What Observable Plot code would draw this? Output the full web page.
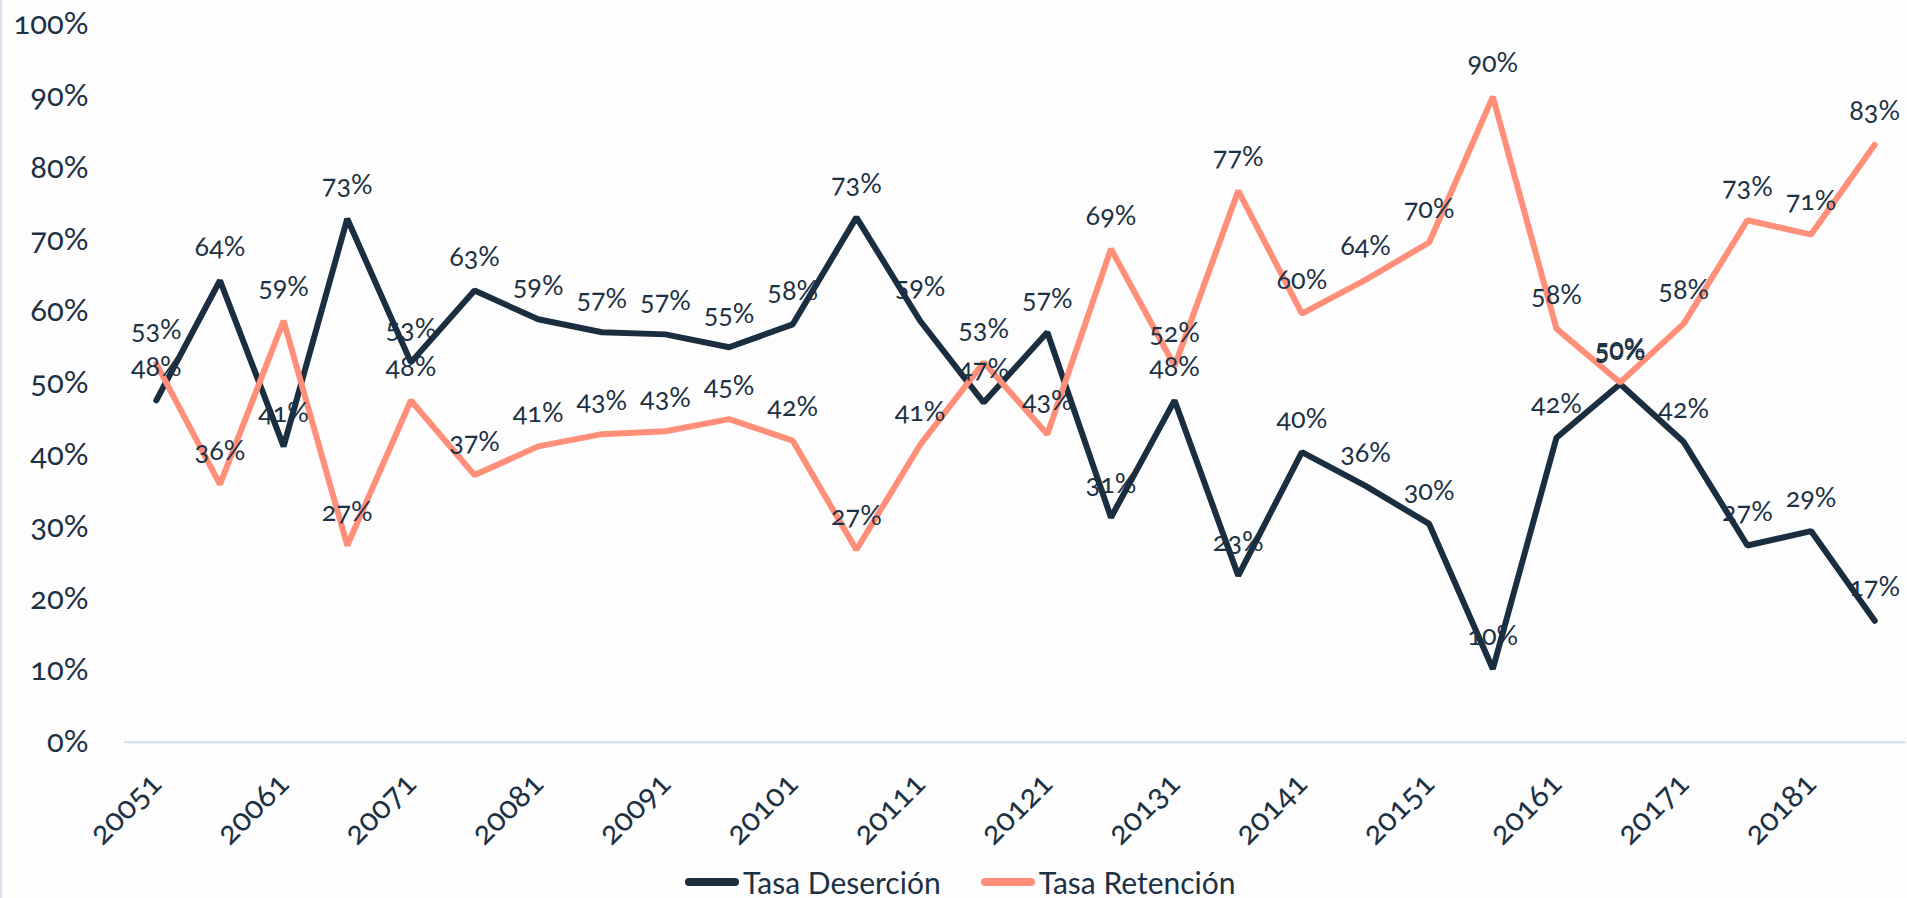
<!DOCTYPE html>
<html>
<head>
<meta charset="utf-8">
<script src="https://cdn.jsdelivr.net/npm/d3@7"></script>
<script src="https://cdn.jsdelivr.net/npm/@observablehq/plot@0.6"></script>
<style>
  html, body { margin: 0; padding: 0; background: #fdfdfd; }
  body { width: 1907px; height: 898px; overflow: hidden; position: relative;
         font-family: Lato, "Noto Sans", sans-serif; font-variant-numeric: oldstyle-nums; color: #1d3144; }
  #frame { position: absolute; left: 0; top: 0; width: 2px; height: 898px; background: #d6e3ef; }
  #legend { position: absolute; top: 862px; left: 685px; height: 40px; display: flex; align-items: center; font-size: 30px; }
  .item { display: flex; align-items: center; margin-right: 40px; }
  .sw { width: 54px; height: 8px; border-radius: 4px; margin-right: 4px; }
  svg text { font-variant-numeric: oldstyle-nums; }
</style>
</head>
<body>
<div id="frame"></div>
<div id="chart"></div>
<div id="legend"></div>
<script>
const periods = ["20051","20052","20061","20062","20071","20072","20081","20082","20091","20092",
  "20101","20102","20111","20112","20121","20122","20131","20132","20141","20142",
  "20151","20152","20161","20162","20171","20172","20181","20182"];
const desercion = [47.6, 64.3, 41.2, 72.9, 52.9, 62.9, 58.9, 57.1, 56.8, 55.0,
  58.2, 73.1, 58.7, 47.3, 57.1, 31.3, 47.6, 23.2, 40.4, 35.7,
  30.4, 10.2, 42.4, 49.9, 41.8, 27.4, 29.4, 16.9];
const retencion = [52.7, 35.9, 58.7, 27.4, 47.6, 37.2, 41.2, 42.9, 43.3, 45.0,
  42.0, 26.8, 41.4, 52.9, 42.9, 68.7, 52.4, 76.8, 59.7, 64.4,
  69.6, 89.9, 57.6, 50.1, 58.3, 72.7, 70.7, 83.2];
const xTickLabels = ["20051","20061","20071","20081","20091","20101","20111","20121","20131","20141","20151","20161","20171","20181"];
const yTicks = [0, 10, 20, 30, 40, 50, 60, 70, 80, 90, 100];
const seriesNames = ["Tasa Deserción", "Tasa Retención"];
const seriesColors = ["#1a2e40", "#ff8f78"];

const desData = periods.map((p, i) => ({period: p, value: desercion[i]}));
const retData = periods.map((p, i) => ({period: p, value: retencion[i]}));
const textColor = "#1d3144";
const fmt = v => Math.round(v) + "%";

const chart = Plot.plot({
  width: 1907,
  height: 862,
  marginLeft: 124,
  marginRight: 1,
  marginTop: 23.7,
  marginBottom: 120.3,
  style: {background: "transparent", fontFamily: "Lato, 'Noto Sans', sans-serif", color: textColor},
  x: {type: "point", domain: periods, padding: 0.5, round: false, axis: null},
  y: {domain: [0, 100], axis: null},
  marks: [
    Plot.ruleY([0], {stroke: "#d3dfeb", strokeWidth: 2}),
    Plot.axisY({ticks: yTicks, tickFormat: d => d + "%", tickSize: 0, tickPadding: 36, fontSize: 31, fill: textColor, label: null}),
    Plot.axisX({ticks: xTickLabels, tickSize: 0, tickRotate: -45, tickPadding: 36, fontSize: 32, fill: textColor, label: null}),
    Plot.line(desData, {x: "period", y: "value", stroke: seriesColors[0], strokeWidth: 6, strokeLinecap: "round", strokeLinejoin: "miter"}),
    Plot.line(retData, {x: "period", y: "value", stroke: seriesColors[1], strokeWidth: 6, strokeLinecap: "round", strokeLinejoin: "miter"}),
    Plot.text(desData, {x: "period", y: "value", text: d => fmt(d.value), dy: -33, fontSize: 27, fill: textColor}),
    Plot.text(retData, {x: "period", y: "value", text: d => fmt(d.value), dy: -33, fontSize: 27, fill: textColor})
  ]
});
document.getElementById("chart").appendChild(chart);

const legend = document.getElementById("legend");
seriesNames.forEach((name, i) => {
  const item = document.createElement("div");
  item.className = "item";
  const sw = document.createElement("span");
  sw.className = "sw";
  sw.style.background = seriesColors[i];
  const label = document.createElement("span");
  label.textContent = name;
  item.appendChild(sw);
  item.appendChild(label);
  legend.appendChild(item);
});
</script>
</body>
</html>
